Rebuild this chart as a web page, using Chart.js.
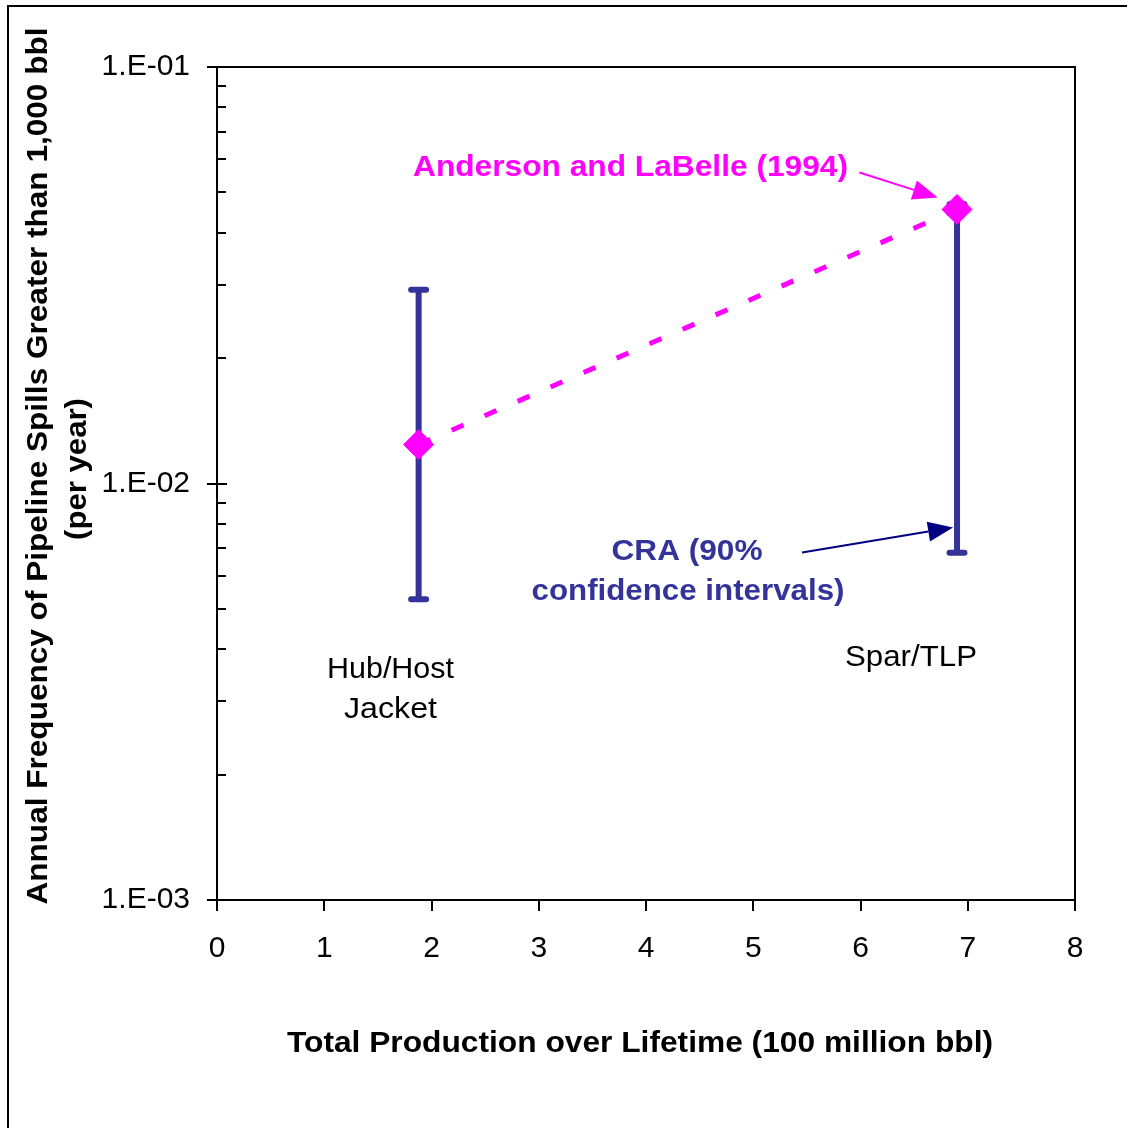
<!DOCTYPE html>
<html>
<head>
<meta charset="utf-8">
<script src="https://cdn.jsdelivr.net/npm/chart.js@4/dist/chart.umd.min.js"></script>
<style>
  html, body { margin: 0; padding: 0; background: #fff; }
  #wrap { width: 1127px; height: 1128px; position: relative; }
</style>
</head>
<body>
<div id="wrap"><canvas id="c" width="1127" height="1128"></canvas></div>
<script>
// Platform types and their lifetime production (100 million bbl)
const platforms = ['Hub/Host\nJacket', 'Spar/TLP'];
const production = [1.88, 6.9];
// Annual frequency of pipeline spills > 1,000 bbl (per year)
const andersonFreq = [0.0124, 0.0455];
// CRA 90% confidence interval bounds
const craLower = [0.00527, 0.00682];
const craUpper = [0.0292, 0.0468];
// Axis ticks
const yDecades = [0.001, 0.01, 0.1];
const yTickLabels = ['1.E-03', '1.E-02', '1.E-01'];
const xTickValues = [0, 1, 2, 3, 4, 5, 6, 7, 8];

const FONT = '"Liberation Sans", Arial, Helvetica, sans-serif';
const MAGENTA = '#FF00FF';
const BAR_BLUE = '#333399';
const NAVY = '#000080';

// Draw text centred on cx, stretched/condensed to a given width
function fitText(ctx, text, cx, base, font, color, width, vertical) {
  ctx.save();
  ctx.font = font;
  ctx.fillStyle = color;
  ctx.textAlign = 'center';
  ctx.textBaseline = 'alphabetic';
  const w = ctx.measureText(text).width;
  if (vertical) {
    ctx.translate(base, cx);
    ctx.rotate(-Math.PI / 2);
  } else {
    ctx.translate(cx, base);
  }
  ctx.scale(width / w, 1);
  ctx.fillText(text, 0, 0);
  ctx.restore();
}

function arrow(ctx, x1, y1, x2, y2, color, headLen, headHalf) {
  const ang = Math.atan2(y2 - y1, x2 - x1);
  const bx = x2 - Math.cos(ang) * headLen;
  const by = y2 - Math.sin(ang) * headLen;
  ctx.save();
  ctx.strokeStyle = color;
  ctx.fillStyle = color;
  ctx.lineWidth = 2;
  ctx.beginPath();
  ctx.moveTo(x1, y1);
  ctx.lineTo(bx, by);
  ctx.stroke();
  ctx.beginPath();
  ctx.moveTo(x2, y2);
  ctx.lineTo(bx - Math.sin(ang) * headHalf, by + Math.cos(ang) * headHalf);
  ctx.lineTo(bx + Math.sin(ang) * headHalf, by - Math.cos(ang) * headHalf);
  ctx.closePath();
  ctx.fill();
  ctx.restore();
}

const framePlugin = {
  id: 'frame',
  beforeDraw(chart) {
    const ctx = chart.ctx;
    ctx.save();
    ctx.fillStyle = '#fff';
    ctx.fillRect(0, 0, chart.width, chart.height);
    ctx.strokeStyle = '#000';
    ctx.lineWidth = 2;
    ctx.strokeRect(8, 6, 1400, 1400);
    ctx.restore();
  },
  beforeDatasetsDraw(chart) {
    // CRA confidence interval bars
    const ctx = chart.ctx;
    const xs = chart.scales.x, ys = chart.scales.y;
    ctx.save();
    ctx.strokeStyle = BAR_BLUE;
    ctx.lineWidth = 6;
    production.forEach((p, i) => {
      const x = xs.getPixelForValue(p);
      const yTop = ys.getPixelForValue(craUpper[i]);
      const yBot = ys.getPixelForValue(craLower[i]);
      ctx.lineCap = 'butt';
      ctx.beginPath();
      ctx.moveTo(x, yTop);
      ctx.lineTo(x, yBot);
      ctx.stroke();
      ctx.lineCap = 'round';
      ctx.beginPath();
      ctx.moveTo(x - 7.5, yTop); ctx.lineTo(x + 7.5, yTop);
      ctx.moveTo(x - 7.5, yBot); ctx.lineTo(x + 7.5, yBot);
      ctx.stroke();
    });
    ctx.restore();
  },
  afterDraw(chart) {
    const ctx = chart.ctx;
    const a = chart.chartArea;
    const xs = chart.scales.x, ys = chart.scales.y;
    ctx.save();
    ctx.strokeStyle = '#000';
    ctx.lineWidth = 2;
    ctx.strokeRect(a.left, a.top, a.right - a.left, a.bottom - a.top);
    ctx.beginPath();
    // y axis: major ticks cross the axis, minor ticks inside
    yDecades.forEach(v => {
      const y = Math.round(ys.getPixelForValue(v));
      ctx.moveTo(a.left - 10, y); ctx.lineTo(a.left + 10, y);
    });
    for (let d = 0; d < yDecades.length - 1; d++) {
      for (let k = 2; k <= 9; k++) {
        const y = Math.round(ys.getPixelForValue(yDecades[d] * k));
        ctx.moveTo(a.left, y); ctx.lineTo(a.left + 9, y);
      }
    }
    // x axis ticks outside
    xTickValues.forEach(v => {
      const x = Math.round(xs.getPixelForValue(v));
      ctx.moveTo(x, a.bottom); ctx.lineTo(x, a.bottom + 11);
    });
    ctx.stroke();
    ctx.restore();

    // Axis titles
    fitText(ctx, 'Annual Frequency of Pipeline Spills Greater than 1,000 bbl', 466, 47,
      'bold 30px ' + FONT, '#000', 877, true);
    fitText(ctx, '(per year)', 469, 86, 'bold 30px ' + FONT, '#000', 142, true);
    fitText(ctx, 'Total Production over Lifetime (100 million bbl)', 640, 1052,
      'bold 30px ' + FONT, '#000', 706, false);

    // Platform labels
    const lines = platforms[0].split('\n');
    fitText(ctx, lines[0], 390.5, 678, '29px ' + FONT, '#000', 127, false);
    fitText(ctx, lines[1], 390.5, 718, '29px ' + FONT, '#000', 93, false);
    fitText(ctx, platforms[1], 911, 666, '29px ' + FONT, '#000', 132, false);

    // Annotations
    fitText(ctx, 'Anderson and LaBelle (1994)', 630.5, 176, 'bold 29px ' + FONT, MAGENTA, 435, false);
    fitText(ctx, 'CRA (90%', 687, 560, 'bold 29px ' + FONT, BAR_BLUE, 151, false);
    fitText(ctx, 'confidence intervals)', 688, 600, 'bold 29px ' + FONT, BAR_BLUE, 313, false);

    arrow(ctx, xs.getPixelForValue(5.99), ys.getPixelForValue(0.0558),
      xs.getPixelForValue(6.72), ys.getPixelForValue(0.0486), MAGENTA, 25, 10);
    arrow(ctx, xs.getPixelForValue(5.455), ys.getPixelForValue(0.00683),
      xs.getPixelForValue(6.863), ys.getPixelForValue(0.00784), NAVY, 25, 10);
  }
};

new Chart(document.getElementById('c'), {
  type: 'line',
  data: {
    datasets: [{
      label: 'Anderson and LaBelle (1994)',
      data: production.map((p, i) => ({ x: p, y: andersonFreq[i] })),
      borderColor: MAGENTA,
      borderWidth: 5,
      borderDash: [13, 23],
      borderCapStyle: 'butt',
      pointStyle: 'rectRot',
      pointRadius: 15,
      pointBackgroundColor: MAGENTA,
      pointBorderColor: MAGENTA,
      pointBorderWidth: 1,
      tension: 0,
      fill: false
    }]
  },
  options: {
    responsive: false,
    animation: false,
    devicePixelRatio: 1,
    events: [],
    layout: { padding: { left: 0, top: 67, right: 52, bottom: 128 } },
    plugins: { legend: { display: false }, tooltip: { enabled: false } },
    scales: {
      x: {
        type: 'linear',
        min: 0, max: 8,
        grid: { display: false, drawTicks: false },
        border: { display: false },
        afterFit(s) { s.height = 100; },
        afterBuildTicks(s) { s.ticks = xTickValues.map(v => ({ value: v })); },
        ticks: {
          padding: 31,
          color: '#000',
          font: { family: FONT, size: 30 },
          callback: v => String(v)
        }
      },
      y: {
        type: 'logarithmic',
        min: 0.001, max: 0.1,
        grid: { display: false, drawTicks: false },
        border: { display: false },
        afterFit(s) { s.width = 217; },
        afterBuildTicks(s) { s.ticks = yDecades.map(v => ({ value: v })); },
        ticks: {
          padding: 27,
          color: '#000',
          font: { family: FONT, size: 30 },
          callback: v => {
            const i = yDecades.findIndex(d => Math.abs(d - v) / d < 1e-6);
            return i >= 0 ? yTickLabels[i] : '';
          }
        }
      }
    }
  },
  plugins: [framePlugin]
});
</script>
</body>
</html>
